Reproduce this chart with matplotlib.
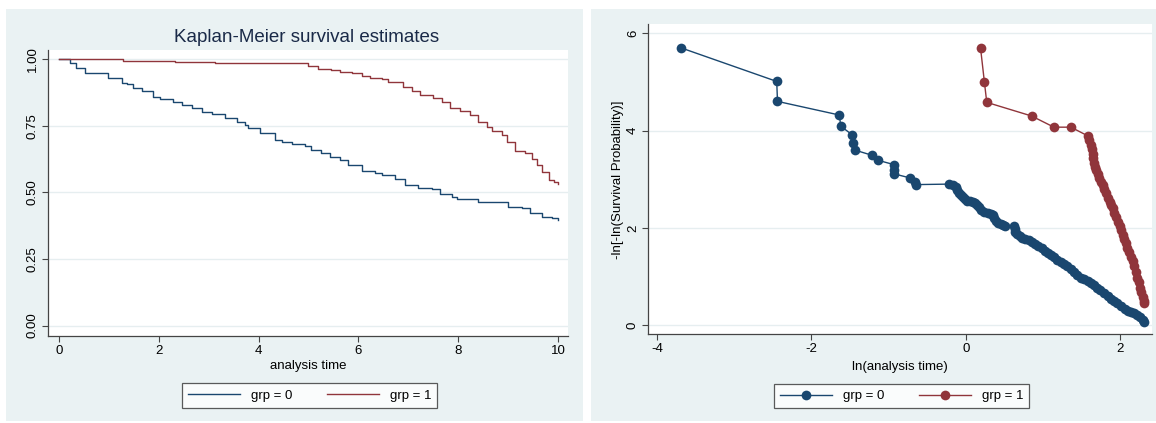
import matplotlib
matplotlib.use("Agg")
import matplotlib.pyplot as plt
from matplotlib.patches import Rectangle

plt.rcParams['font.family'] = ['Liberation Sans', 'DejaVu Sans']
plt.rcParams['axes.unicode_minus'] = False

# Kaplan-Meier step points (time, survival)
km0_time = [0, 0.22, 0.35, 0.52, 0.99, 1.26, 1.36, 1.49, 1.66, 1.89, 2.02, 2.29, 2.46,
            2.66, 2.86, 3.06, 3.33, 3.56, 3.73, 3.79, 4.03, 4.33, 4.46, 4.66, 4.93,
            5.06, 5.26, 5.43, 5.63, 5.80, 6.07, 6.33, 6.47, 6.73, 6.93, 7.20, 7.47,
            7.64, 7.87, 7.97, 8.40, 8.77, 9.00, 9.27, 9.44, 9.67, 9.87, 10.0]
km0_surv = [1.0, 0.984, 0.965, 0.946, 0.928, 0.909, 0.906, 0.890, 0.880, 0.859, 0.850,
            0.840, 0.828, 0.815, 0.802, 0.793, 0.778, 0.763, 0.753, 0.742, 0.721, 0.696,
            0.688, 0.681, 0.675, 0.659, 0.646, 0.634, 0.621, 0.602, 0.581, 0.571, 0.565,
            0.549, 0.528, 0.518, 0.513, 0.493, 0.484, 0.475, 0.465, 0.463, 0.446, 0.440,
            0.421, 0.409, 0.403, 0.396]

km1_time = [0, 1.29, 2.32, 3.13, 5.00, 5.20, 5.46, 5.63, 5.87, 6.07, 6.23, 6.47, 6.60,
            6.90, 7.07, 7.23, 7.50, 7.67, 7.84, 8.04, 8.24, 8.40, 8.57, 8.67, 8.87,
            8.97, 9.14, 9.34, 9.47, 9.57, 9.67, 9.81, 9.91, 10.0]
km1_surv = [1.0, 0.992, 0.988, 0.984, 0.975, 0.962, 0.959, 0.950, 0.946, 0.937, 0.928,
            0.925, 0.913, 0.896, 0.880, 0.865, 0.853, 0.838, 0.818, 0.805, 0.790, 0.763,
            0.746, 0.730, 0.715, 0.690, 0.655, 0.646, 0.625, 0.602, 0.575, 0.546, 0.540,
            0.530]

# log-log points
ll0_x = [-3.69, -2.45, -2.44, -1.64, -1.62, -1.47, -1.46, -1.44, -1.21, -1.14, -0.93,
         -0.93, -0.93, -0.73, -0.66, -0.64, -0.22, -0.17, -0.13, -0.11, -0.09, -0.06,
         -0.04, -0.01, 0.01, 0.05, 0.09, 0.12, 0.15, 0.17, 0.19, 0.23, 0.28, 0.32, 0.35,
         0.37, 0.39, 0.42, 0.45, 0.48, 0.51, 0.62, 0.63, 0.64, 0.66, 0.70, 0.73, 0.77,
         0.82, 0.86, 0.90, 0.94, 0.98, 1.02, 1.06, 1.10, 1.14, 1.18, 1.23, 1.27, 1.31,
         1.36, 1.40, 1.44, 1.49, 1.53, 1.58, 1.62, 1.66, 1.70, 1.74, 1.79, 1.84, 1.88,
         1.92, 1.96, 2.01, 2.06, 2.10, 2.14, 2.18, 2.22, 2.26, 2.29, 2.31]
ll0_y = [5.70, 5.01, 4.60, 4.32, 4.09, 3.91, 3.75, 3.60, 3.49, 3.39, 3.30, 3.19, 3.11,
         3.03, 2.95, 2.89, 2.90, 2.88, 2.84, 2.78, 2.71, 2.67, 2.64, 2.60, 2.56, 2.56,
         2.54, 2.51, 2.47, 2.42, 2.37, 2.33, 2.30, 2.29, 2.27, 2.21, 2.15, 2.11, 2.08,
         2.06, 2.03, 2.03, 1.97, 1.92, 1.87, 1.83, 1.80, 1.78, 1.76, 1.72, 1.67, 1.62,
         1.58, 1.53, 1.48, 1.44, 1.40, 1.35, 1.29, 1.25, 1.21, 1.15, 1.10, 1.04, 0.98,
         0.94, 0.90, 0.87, 0.83, 0.77, 0.72, 0.66, 0.60, 0.54, 0.49, 0.45, 0.39, 0.34,
         0.30, 0.28, 0.25, 0.22, 0.17, 0.11, 0.07]

ll1_x = [0.19, 0.24, 0.27, 0.85, 1.14, 1.36, 1.58, 1.60, 1.62, 1.63, 1.64, 1.65, 1.66,
         1.67, 1.69, 1.71, 1.73, 1.75, 1.77, 1.79, 1.81, 1.84, 1.86, 1.88, 1.90, 1.92,
         1.94, 1.97, 1.99, 2.01, 2.03, 2.05, 2.07, 2.09, 2.11, 2.14, 2.16, 2.18, 2.20,
         2.22, 2.24, 2.26, 2.27, 2.29, 2.30, 2.31]
ll1_y = [5.69, 4.99, 4.58, 4.30, 4.07, 4.07, 3.89, 3.80, 3.71, 3.62, 3.52, 3.44, 3.34,
         3.26, 3.18, 3.10, 3.02, 2.94, 2.88, 2.80, 2.71, 2.62, 2.54, 2.47, 2.40, 2.31,
         2.22, 2.13, 2.04, 1.95, 1.86, 1.77, 1.68, 1.59, 1.50, 1.40, 1.31, 1.21, 1.10,
         0.98, 0.88, 0.76, 0.68, 0.58, 0.50, 0.46]

labels = ['grp = 0', 'grp = 1']
navy = '#1a476f'
maroon = '#90353b'
panel_bg = '#eaf2f3'
grid_c = '#e6eef0'

W, H = 1156, 423
fig = plt.figure(figsize=(W / 100, H / 100), dpi=100)
fig.patch.set_facecolor('white')

# gray graph regions, kept behind the axes
fig.patches.append(Rectangle((6 / W, 2 / H), 577 / W, 412 / H, transform=fig.transFigure,
                             facecolor=panel_bg, edgecolor='none', zorder=-10))
fig.patches.append(Rectangle((591 / W, 2 / H), 565 / W, 412 / H, transform=fig.transFigure,
                             facecolor=panel_bg, edgecolor='none', zorder=-10))


def style_axes(ax):
    ax.set_facecolor('white')
    for s in ['top', 'right']:
        ax.spines[s].set_visible(False)
    for s in ['left', 'bottom']:
        ax.spines[s].set_color('#444444')
        ax.spines[s].set_linewidth(0.9)
    ax.tick_params(axis='both', length=4, width=0.8, color='#444444', labelsize=9.5, pad=2.5)
    ax.tick_params(axis='y', labelrotation=90)
    for t in ax.get_yticklabels():
        t.set_va('center')
    ax.grid(axis='y', color=grid_c, linewidth=1.0)
    ax.set_axisbelow(True)


# left: Kaplan-Meier
ax1 = fig.add_axes([48 / W, 87 / H, 520 / W, 286 / H])
ax1.step(km0_time, km0_surv, where='post', color=navy, lw=1.0, label=labels[0])
ax1.step(km1_time, km1_surv, where='post', color=maroon, lw=1.0, label=labels[1])
ax1.set_xlim(-0.22, 10.2)
ax1.set_ylim(-0.039, 1.034)
ax1.set_xticks([0, 2, 4, 6, 8, 10])
ax1.set_yticks([0, 0.25, 0.5, 0.75, 1.0])
ax1.set_yticklabels(['0.00', '0.25', '0.50', '0.75', '1.00'])
style_axes(ax1)
fig.text(307 / W, 1 - 37 / H, 'Kaplan-Meier survival estimates', ha='center', va='center',
         fontsize=13.5, color='#1a2a48')
fig.text(308 / W, 1 - 366 / H, 'analysis time', ha='center', va='center', fontsize=9.5)
leg1 = ax1.legend(loc='center', bbox_to_anchor=(309.5 / W, 1 - 395.5 / H),
                  bbox_transform=fig.transFigure, ncol=2, fontsize=9.5, frameon=True,
                  fancybox=False, edgecolor='#333333', handlelength=4.0,
                  handletextpad=0.8, columnspacing=2.6, borderpad=0.45)
leg1.get_frame().set_linewidth(0.9)

# right: log-log plot
ax2 = fig.add_axes([648 / W, 89 / H, 504 / W, 310 / H])
ax2.plot(ll0_x, ll0_y, color=navy, lw=1.0, marker='o', markersize=7,
         markeredgewidth=0, label=labels[0])
ax2.plot(ll1_x, ll1_y, color=maroon, lw=1.0, marker='o', markersize=7,
         markeredgewidth=0, label=labels[1])
ax2.set_xlim(-4.117, 2.41)
ax2.set_ylim(-0.18, 6.19)
ax2.set_xticks([-4, -2, 0, 2])
ax2.set_yticks([0, 2, 4, 6])
style_axes(ax2)
fig.text(900 / W, 1 - 367 / H, 'ln(analysis time)', ha='center', va='center', fontsize=9.5)
fig.text(618 / W, 1 - 180 / H, '-ln[-ln(Survival Probability)]', ha='center', va='center',
         rotation=90, fontsize=9.5)
leg2 = ax2.legend(loc='center', bbox_to_anchor=(901.5 / W, 1 - 396 / H),
                  bbox_transform=fig.transFigure, ncol=2, fontsize=9.5, frameon=True,
                  fancybox=False, edgecolor='#333333', handlelength=4.0,
                  handletextpad=0.8, columnspacing=2.6, borderpad=0.45)
leg2.get_frame().set_linewidth(0.9)

fig.savefig('out.png', dpi=100, facecolor=fig.get_facecolor())
